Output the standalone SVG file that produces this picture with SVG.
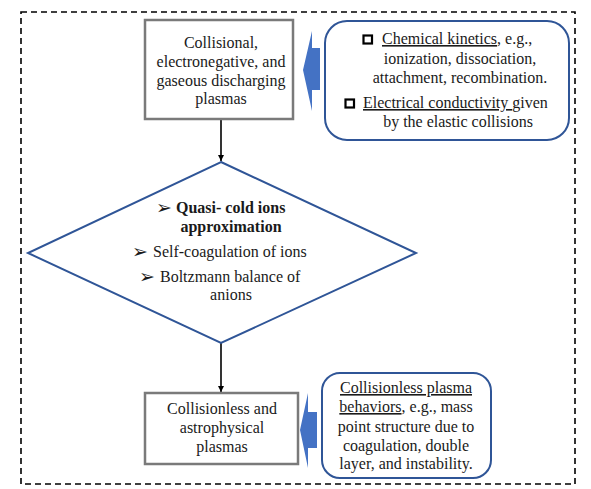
<svg xmlns="http://www.w3.org/2000/svg" width="591" height="489" viewBox="0 0 591 489">
<style>
text{font-family:'Liberation Serif','Times New Roman','DejaVu Serif',serif;font-size:16px;fill:#1a1a1a}
.c{text-anchor:middle}
.b{font-weight:bold}
.u{text-decoration:underline}
.ar{font-family:'DejaVu Sans',sans-serif;font-size:19px}
.gbox{fill:#fff;stroke:#7a7a7a;stroke-width:2.5}
.rbox{fill:#fff;stroke:#2f5597;stroke-width:2}
.blk{fill:#4472c4}
.con{stroke:#000;stroke-width:1.6;fill:none}
</style>
<defs>
<marker id="ah" viewBox="0 0 10 10" refX="10" refY="5" markerWidth="4" markerHeight="4" orient="auto" markerUnits="strokeWidth">
<path d="M0,0 L10,5 L0,10 z" fill="#000"/>
</marker>
</defs>
<rect id="frame" x="21" y="12" width="554" height="472" fill="none" stroke="#000" stroke-width="1.6" stroke-dasharray="6,4"/>
<g id="connectors">
<line class="con" x1="221" y1="120" x2="221" y2="161" marker-end="url(#ah)"/>
<line class="con" x1="221" y1="343" x2="221" y2="392" marker-end="url(#ah)"/>
<path class="blk" d="M303,70 L312,31 L312,48 L320,48 L320,90 L312,90 L312,111 Z"/>
<path class="blk" d="M300,430 L308,393 L308,412 L317,412 L317,448 L308,448 L308,468 Z"/>
</g>
<g id="node-top">
<rect class="gbox" x="145" y="20" width="148" height="99"/>
<text class="c" x="221" y="48">Collisional,</text>
<text class="c" x="221" y="67">electronegative, and</text>
<text class="c" x="221" y="86">gaseous discharging</text>
<text class="c" x="221" y="104">plasmas</text>
</g>
<g id="node-kinetics">
<rect class="rbox" x="325" y="21" width="244" height="119" rx="22"/>
<rect x="363.5" y="35.5" width="8.5" height="8" fill="none" stroke="#000" stroke-width="2.2"/>
<text x="382" y="44"><tspan class="u">Chemical kinetics</tspan>, e.g.,</text>
<text class="c" x="460" y="64">ionization, dissociation,</text>
<text class="c" x="460" y="83">attachment, recombination.</text>
<rect x="345.5" y="99.5" width="8.5" height="8" fill="none" stroke="#000" stroke-width="2.2"/>
<text x="363" y="108"><tspan class="u">Electrical conductivity </tspan>given</text>
<text class="c" x="458" y="127">by the elastic collisions</text>
</g>
<g id="node-diamond">
<polygon points="221,162 416,253 221,343 28,253" fill="#fff" stroke="#2f5597" stroke-width="2"/>
<text x="156" y="214"><tspan class="ar">➢</tspan></text>
<text class="b" x="176" y="213">Quasi- cold ions</text>
<text class="b c" x="231" y="232">approximation</text>
<text x="132" y="258"><tspan class="ar">➢</tspan></text>
<text x="153" y="257">Self-coagulation of ions</text>
<text x="139" y="283"><tspan class="ar">➢</tspan></text>
<text x="160" y="282">Boltzmann balance of</text>
<text class="c" x="231" y="300">anions</text>
</g>
<g id="node-bottom">
<rect class="gbox" x="145" y="393" width="153" height="71"/>
<text class="c" x="222" y="414">Collisionless and</text>
<text class="c" x="222" y="433">astrophysical</text>
<text class="c" x="222" y="452">plasmas</text>
</g>
<g id="node-collisionless">
<rect class="rbox" x="322" y="373" width="169" height="105" rx="18"/>
<text class="c" x="406" y="393"><tspan class="u">Collisionless plasma</tspan></text>
<text class="c" x="406" y="412"><tspan class="u">behaviors</tspan>, e.g., mass</text>
<text class="c" x="406" y="432">point structure due to</text>
<text class="c" x="406" y="451">coagulation, double</text>
<text class="c" x="406" y="469">layer, and instability.</text>
</g>
</svg>
